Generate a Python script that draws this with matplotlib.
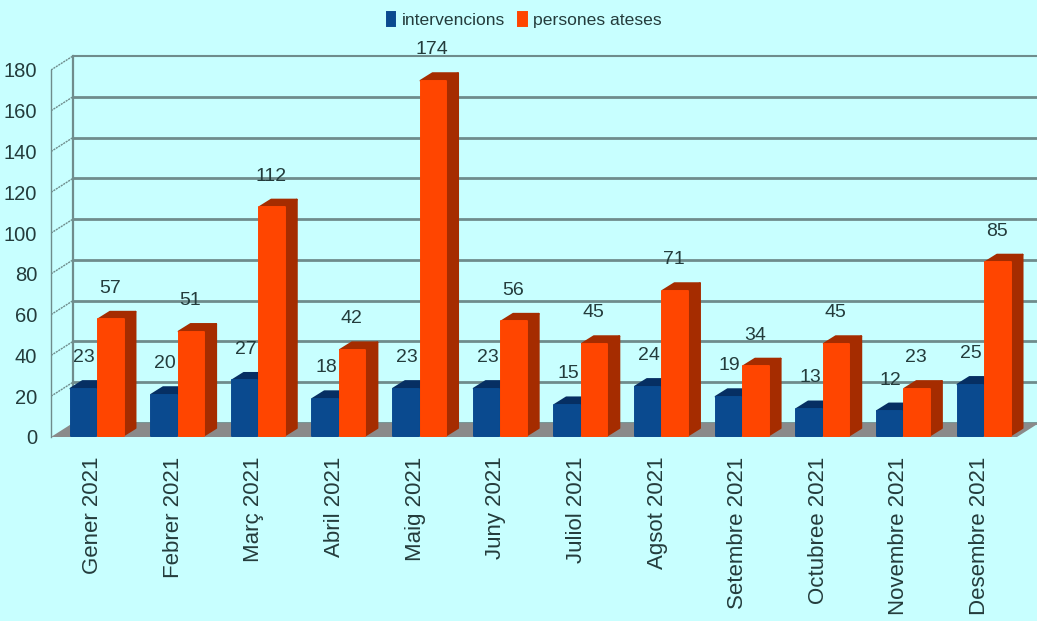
import matplotlib
matplotlib.use("Agg")
import matplotlib.pyplot as plt
import numpy as np
from matplotlib.patches import Polygon

months = ["Gener 2021", "Febrer 2021", "Març 2021", "Abril 2021", "Maig 2021", "Juny 2021",
          "Juliol 2021", "Agsot 2021", "Setembre 2021", "Octubree 2021", "Novembre 2021", "Desembre 2021"]
intervencions = [23, 20, 27, 18, 23, 23, 15, 24, 19, 13, 12, 25]
persones = [57, 51, 112, 42, 174, 56, 45, 71, 34, 45, 23, 85]
yticks = list(range(0, 181, 20))

W, H = 1037, 621
BG = "#C8FFFF"
NARROW = ["Liberation Sans Narrow", "Liberation Sans", "DejaVu Sans"]
TXT = "#243c3c"
PX_X = 80.64   # px per category
PX_Y = 2.039   # px per unit

fig = plt.figure(figsize=(W / 100, H / 100), dpi=100, facecolor=BG)
ax = fig.add_axes([51 / W, 0, 1 - 51 / W, 1], facecolor=BG)
ax.set_xlim(-46 / PX_X, (1037 - 97) / PX_X)
ax.set_ylim((437 - 621) / PX_Y, 437 / PX_Y)

wall_dx, wall_dy = 22 / PX_X, 14 / PX_Y
bar_dx, bar_dy = 12 / PX_X, 7.5 / PX_Y
base = 1.5 / PX_Y
bw = 25.5 / PX_X
x = np.arange(len(months))
x0 = ax.get_xlim()[0]
x1 = ax.get_xlim()[1] + 2 / PX_X

# walls and grid
GRID = "#6f8c8c"
for v in yticks:
    ax.plot([x0 + wall_dx, x1], [v + wall_dy] * 2, color=GRID, lw=2.0 if v < 180 else 1.5, zorder=1, solid_capstyle="butt")
    if v > 0:
        ax.plot([x0, x0 + wall_dx], [v, v + wall_dy], color=GRID, lw=1.0, ls=(0, (1.5, 0.6)), zorder=1)
ax.plot([x0 + wall_dx] * 2, [wall_dy, 180 + wall_dy], color=GRID, lw=1.6, zorder=1)

# floor
ax.add_patch(Polygon([(x0, 0), (x0 + wall_dx, wall_dy), (x1, wall_dy), (x1 - wall_dx, 0)],
                     closed=True, fc="#8a8a8a", ec="none", zorder=2))


def bars3d(pos, vals, front, side, top, z):
    rects = ax.bar(pos, vals, width=bw, bottom=base, align="edge", color=front, edgecolor=front,
                   linewidth=1.4, joinstyle="round", zorder=z + 1)
    for p, v in zip(pos, vals):
        t = base + v
        ax.add_patch(Polygon([(p + bw, base), (p + bw + bar_dx, base + bar_dy), (p + bw + bar_dx, t + bar_dy), (p + bw, t)],
                             closed=True, fc=side, ec=side, lw=1.4, joinstyle="round", zorder=z))
        ax.add_patch(Polygon([(p, t), (p + bar_dx, t + bar_dy), (p + bw + bar_dx, t + bar_dy), (p + bw, t)],
                             closed=True, fc=top, ec=top, lw=1.4, joinstyle="round", zorder=z))
    return rects


b1 = bars3d(x - bw - 1 / PX_X, intervencions, "#0A4A8F", "#062F63", "#062F63", 3)
b2 = bars3d(x + 1 / PX_X, persones, "#FF4500", "#A52C00", "#A52C00", 5)

# value labels
for p, v in zip(x - bw / 2, intervencions):
    ax.annotate(str(v), (p, base + v), xytext=(0, 31), textcoords="offset pixels", ha="center", va="center",
                family=NARROW, fontsize=14, color=TXT, zorder=8)
for p, v in zip(x + bw / 2, persones):
    ax.annotate(str(v), (p, base + v), xytext=(0, 31), textcoords="offset pixels", ha="center", va="center",
                family=NARROW, fontsize=14, color=TXT, zorder=8)

# axes
for s in ["top", "right", "bottom"]:
    ax.spines[s].set_visible(False)
ax.spines["bottom"].set_position(("data", 0))
ax.spines["left"].set_bounds(0, 180)
ax.spines["left"].set_color(GRID)
ax.spines["left"].set_linewidth(1.0)
ax.set_yticks(yticks)
ax.set_yticklabels([str(v) for v in yticks], family=NARROW, fontsize=14.5, color=TXT)
ax.tick_params(axis="y", length=0, pad=10)
ax.set_xticks(x - 0.055)
ax.set_xticklabels(months, rotation=90, family="Liberation Sans", fontsize=16, color=TXT, ha="center", va="top")
ax.tick_params(axis="x", length=0, pad=14)

leg = fig.legend([b1, b2], ["intervencions", "persones ateses"], ncols=2, loc="center",
                 bbox_to_anchor=(524 / W, 1 - 20 / H), frameon=False,
                 prop={"family": NARROW, "size": 12.6}, labelcolor=TXT,
                 handlelength=0.5, handleheight=0.8, handletextpad=0.35, columnspacing=0.75)

fig.savefig("out.png", dpi=100, facecolor=BG)
